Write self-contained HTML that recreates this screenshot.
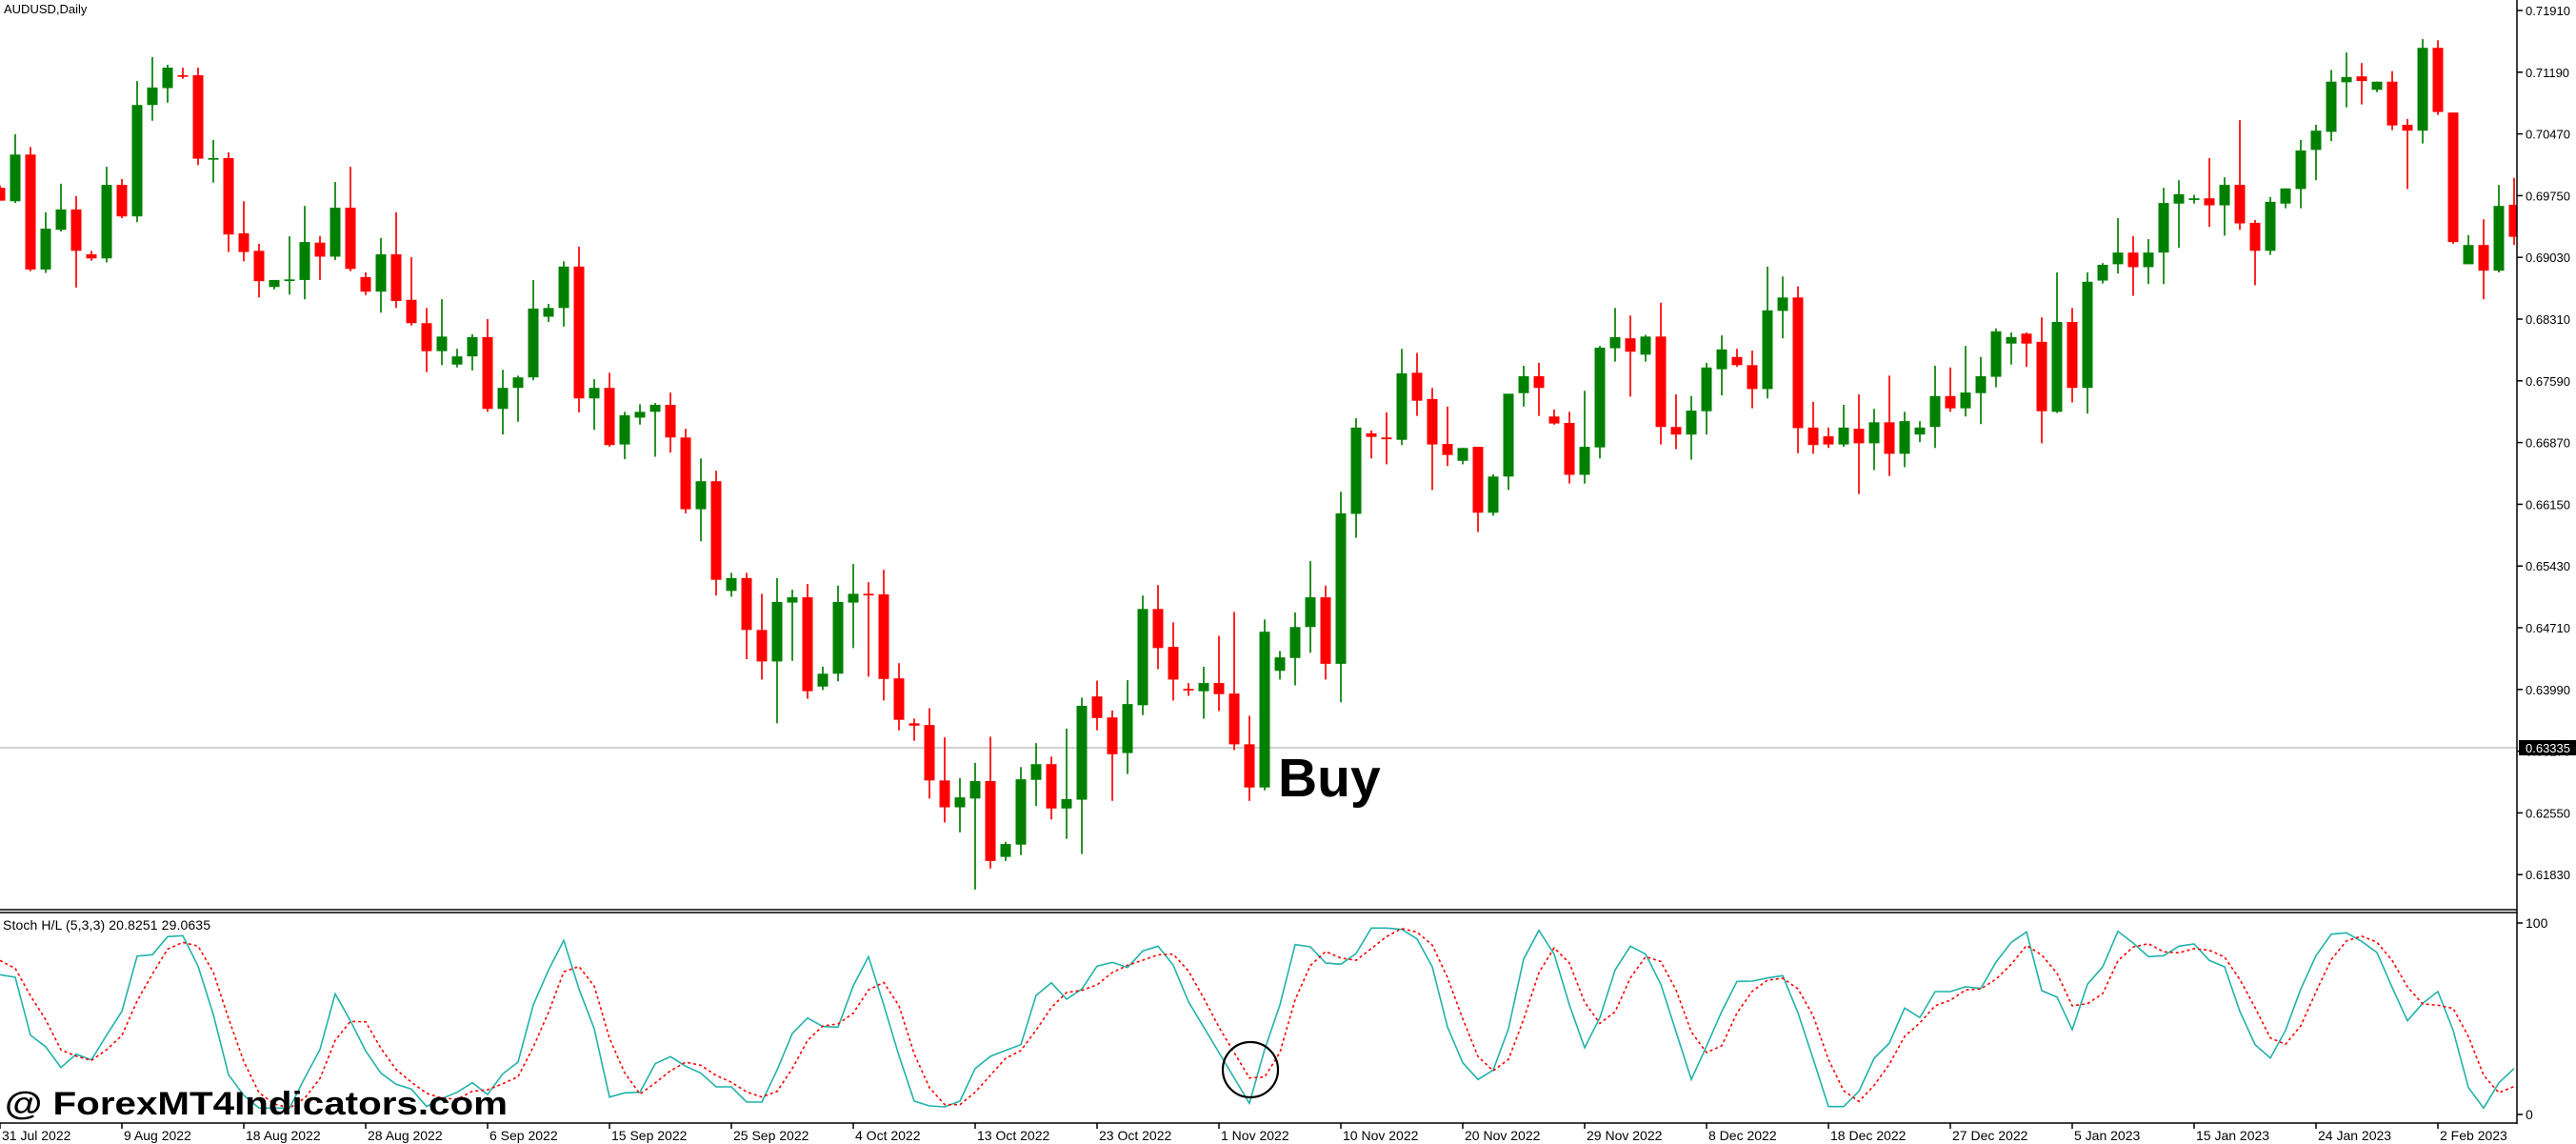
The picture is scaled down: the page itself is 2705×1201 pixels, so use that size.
<!DOCTYPE html>
<html><head><meta charset="utf-8"><style>
html,body{margin:0;padding:0;background:#fff;}
svg{display:block;}
text{font-family:"Liberation Sans",sans-serif;}
</style></head><body>
<svg id="s" width="2705" height="1201" xmlns="http://www.w3.org/2000/svg">
<defs><clipPath id="cm"><rect x="0" y="0" width="2643" height="955"/></clipPath>
<clipPath id="cs"><rect x="0" y="958" width="2643" height="221"/></clipPath></defs>
<rect width="2705" height="1201" fill="#fff"/>
<line x1="0" y1="785" x2="2643" y2="785" stroke="#c0c0c0" stroke-width="1.5"/>
<g id="candles" clip-path="url(#cm)"></g>
<g id="stoch" clip-path="url(#cs)"></g>
<line x1="0" y1="955" x2="2643" y2="955" stroke="#000" stroke-width="1.5"/>
<line x1="0" y1="958" x2="2643" y2="958" stroke="#000" stroke-width="1.5"/>
<line x1="0" y1="1179" x2="2643" y2="1179" stroke="#000" stroke-width="1.5"/>
<line x1="2643" y1="0" x2="2643" y2="1180" stroke="#000" stroke-width="1.5"/>
<g id="axis"></g>
<text x="4" y="14" font-size="13" fill="#000">AUDUSD,Daily</text>
<text x="3" y="976" font-size="14" fill="#000" textLength="218">Stoch H/L (5,3,3) 20.8251 29.0635</text>
<text x="1342" y="836" font-size="57" font-weight="bold" fill="#000">Buy</text>
<text x="5" y="1170" font-size="34" font-weight="bold" fill="#000" textLength="528" lengthAdjust="spacingAndGlyphs">@ ForexMT4Indicators.com</text>
<circle cx="1313" cy="1123" r="29" fill="none" stroke="#000" stroke-width="2.2"/>
</svg>
<script>
var NS="http://www.w3.org/2000/svg";
function el(p,t,a){var e=document.createElementNS(NS,t);for(var k in a)e.setAttribute(k,a[k]);p.appendChild(e);return e;}
var C=[
["r",322,344,318,344],["g",265,345,230,348],["r",265,462,252,465],["g",392,462,364,468],["g",359,394,315,397],
["r",359,430,336,493],["r",436,443,430,447],["g",317,443,286,450],["r",317,371,307,374],["g",180,371,139,381],
["g",150,180,98,207],["g",116,151,111,176],["r",129,131,116,135],["r",129,272,116,283],["g",271,273,240,313],
["r",271,402,261,432],["r",400,432,345,448],["r",430,482,418,510],["g",480,492,480,496],["g",479,481,405,505],
["g",415,480,353,513],["r",416,440,405,480],["g",356,440,312,446],["r",356,461,286,465],["r",475,500,467,506],
["g",436,500,408,536],["r",436,516,364,528],["r",514,554,441,558],["r",554,602,528,638],["g",577,602,513,626],
["g",611,625,598,630],["g",578,611,573,635],["r",578,701,547,706],["g",665,701,634,745],["g",647,665,644,723],
["g",529,647,480,652],["g",528,543,521,552],["g",457,528,448,560],["r",457,683,423,707],["g",665,683,650,737],
["r",665,763,639,766],["g",712,762,706,787],["g",706,716,693,728],
["g",694,706,691,783],["r",694,750,673,776],["r",750,873,735,880],["g",825,873,786,928],["r",825,994,807,1021],
["g",991,1013,982,1023],["r",991,1080,982,1130],["r",1080,1134,1018,1165],["g",1032,1134,991,1240],["g",1024,1033,1011,1133],
["r",1024,1185,1001,1198],["g",1155,1177,1143,1183],["g",1032,1155,1004,1168],["g",1018,1033,967,1111],["r",1018,1020,998,1160],
["r",1019,1164,977,1201],["r",1163,1234,1137,1252],["r",1240,1244,1232,1270],["r",1243,1338,1214,1369],["r",1338,1384,1264,1410],
["g",1367,1384,1334,1427],["g",1339,1369,1308,1525],["r",1339,1476,1263,1489],["g",1447,1469,1443,1476],["g",1336,1448,1315,1466],
["g",1310,1337,1274,1382],["r",1310,1386,1297,1405],["g",1370,1386,1249,1438],["g",1210,1371,1196,1464],["r",1194,1231,1167,1252],
["r",1230,1293,1218,1373],["g",1207,1291,1166,1327],["g",1044,1209,1021,1226],["r",1044,1111,1003,1147],["r",1109,1165,1067,1201],
["r",1181,1183,1171,1193],["g",1171,1185,1143,1232],["r",1171,1190,1090,1219],["r",1189,1276,1049,1286],["r",1276,1350,1227,1373],
["g",1083,1350,1062,1355],
["g",1127,1150,1116,1165],["g",1075,1128,1050,1175],["g",1024,1075,962,1119],["r",1024,1138,1004,1165],["g",880,1138,843,1204],
["g",733,881,717,922],["r",743,749,738,786],["r",750,753,707,796],["g",640,754,598,763],["r",639,687,605,713],
["r",684,762,665,840],["r",761,780,697,799],["g",768,790,768,796],["r",766,879,766,912],["g",817,879,813,884],
["g",675,817,675,840],["g",645,674,627,697],["r",645,665,622,713],["r",714,726,702,728],["r",725,814,706,829],
["g",766,814,670,829],["g",596,767,593,786],["g",578,597,528,620],["r",580,603,541,680],["g",577,608,574,620],
["r",577,732,519,762],["r",732,745,676,770],["g",704,745,679,788],["g",630,705,622,745],["g",599,633,575,678],
["r",612,626,598,629],["r",626,667,601,700],["g",532,667,457,683],["g",510,533,474,580],["r",510,734,491,777],
["r",733,763,689,778],["r",748,762,733,768],["g",733,762,694,766],["r",735,760,676,847],["g",724,760,701,806],
["r",724,778,644,816],
["g",722,778,706,801],["g",733,745,722,758],["g",679,732,627,768],["r",679,700,630,706],["g",673,700,593,714],
["g",645,674,612,727],["g",568,646,563,664],["g",578,589,570,625],["r",572,589,570,629],["r",586,705,544,760],
["g",552,706,467,708],["r",552,665,528,690],["g",483,665,467,709],["g",454,481,451,486],["g",433,453,374,469],
["r",433,458,405,507],["g",433,458,410,487],["g",348,433,322,487],["g",333,349,309,425],["g",340,343,334,349],
["r",340,352,271,389],["g",317,352,304,404],["r",317,383,206,394],["r",382,430,377,489],["g",346,430,338,437],
["g",323,349,323,357],["g",258,324,240,357],["g",224,257,214,309],["g",140,226,120,242],["g",132,141,90,184],
["r",131,139,108,179],["g",140,154,140,158],["r",140,215,122,223],["r",214,224,204,324],["g",82,224,67,246],
["r",82,192,69,197],["r",193,415,193,418],["g",420,453,403,453],["r",420,464,376,513],["g",353,464,317,467],
["r",351,406,305,420]];
var cg=document.getElementById("candles"),k=1.633;
C.forEach(function(c,i){var x=16*i,col=c[0]=="g"?"#008000":"#ff0000";
el(cg,"rect",{x:x-0.85,y:c[3]/k,width:1.7,height:Math.max(1,(c[4]-c[3])/k),fill:col});
var h=(c[2]-c[1])/k;el(cg,"rect",{x:x-5.5,y:c[1]/k,width:11,height:Math.max(1.7,h),fill:col});});
var M=[205,213,395,432,497,455,473,395,320,146,142,85,82,178,330,520,585,625,625,625,530,440,265,350,445,515,550,565,620,595,575,545,582,517,480,300,190,97,250,375,590,577,575,
485,463,493,515,558,558,606,606,505,390,341,368,370,240,148,300,460,603,618,621,603,500,462,443,425,270,230,282,250,178,166,182,130,115,175,290,370,450,530,610,440,
300,110,117,168,172,138,58,58,62,92,180,370,482,535,505,375,155,65,140,300,435,340,190,115,140,235,385,535,430,320,226,225,215,208,325,470,620,620,572,468,420,
310,340,258,258,243,248,165,103,70,255,275,378,235,180,68,105,148,145,115,108,160,180,320,425,467,380,250,145,77,73,100,135,245,350,295,258,380,560,625,545,500];
var S=[160,185];for(var i=2;i<M.length;i++)S.push((M[i]+M[i-1]+M[i-2])/3);
function pts(a){return a.map(function(v,i){return (16*i)+","+(955+v/3).toFixed(1)}).join(" ");}
var sg=document.getElementById("stoch");
el(sg,"polyline",{points:pts(M),fill:"none",stroke:"#20b2aa","stroke-width":1.6});
el(sg,"polyline",{points:pts(S),fill:"none",stroke:"#ff0000","stroke-width":1.6,"stroke-dasharray":"3,3"});
var ax=document.getElementById("axis");
for(var j=0;j<15;j++){var y=11+j*64.8,v=(0.71910-j*0.0072).toFixed(5);
el(ax,"line",{x1:2643,y1:y,x2:2649,y2:y,stroke:"#000","stroke-width":1.5});
var t=el(ax,"text",{x:2652,y:y+5,"font-size":13,fill:"#000"});t.textContent=v;}
el(ax,"rect",{x:2645,y:777,width:60,height:16,fill:"#000"});
var t=el(ax,"text",{x:2652,y:790,"font-size":13,fill:"#fff"});t.textContent="0.63335";
[[969,"100"],[1170,"0"]].forEach(function(a){el(ax,"line",{x1:2643,y1:a[0],x2:2649,y2:a[0],stroke:"#000","stroke-width":1.5});
var t=el(ax,"text",{x:2652,y:a[0]+5,"font-size":14,fill:"#000"});t.textContent=a[1];});
var D=["31 Jul 2022","9 Aug 2022","18 Aug 2022","28 Aug 2022","6 Sep 2022","15 Sep 2022","25 Sep 2022","4 Oct 2022","13 Oct 2022","23 Oct 2022","1 Nov 2022","10 Nov 2022","20 Nov 2022","29 Nov 2022","8 Dec 2022","18 Dec 2022","27 Dec 2022","5 Jan 2023","15 Jan 2023","24 Jan 2023","2 Feb 2023"];
D.forEach(function(d,n){var x=n*128;el(ax,"line",{x1:x,y1:1179,x2:x,y2:1185,stroke:"#000","stroke-width":1.5});
var t=el(ax,"text",{x:x+2,y:1197,"font-size":14,fill:"#000"});t.textContent=d;});
</script>
</body></html>
